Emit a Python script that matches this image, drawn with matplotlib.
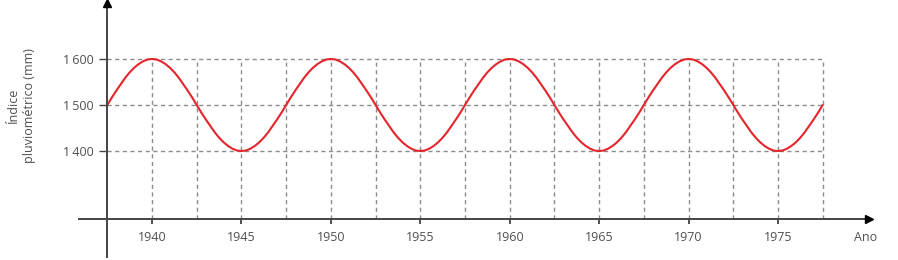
"""Índice pluviométrico: curva periódica 1937.5-1977.5."""

import numpy as np
import matplotlib
matplotlib.use("Agg")
from matplotlib import pyplot as plt

plt.rcParams["font.family"] = ["Open Sans", "DejaVu Sans"]

# quarter-year samples (period of 10 years)
years = np.arange(1937.5, 1977.75, 0.25)
rain_index = [
    1500, 1516, 1531, 1545, 1559, 1571, 1581, 1589, 1595, 1599,
    1600, 1599, 1595, 1589, 1581, 1571, 1559, 1545, 1531, 1516,
    1500, 1484, 1469, 1455, 1441, 1429, 1419, 1411, 1405, 1401,
    1400, 1401, 1405, 1411, 1419, 1429, 1441, 1455, 1469, 1484,
    1500, 1516, 1531, 1545, 1559, 1571, 1581, 1589, 1595, 1599,
    1600, 1599, 1595, 1589, 1581, 1571, 1559, 1545, 1531, 1516,
    1500, 1484, 1469, 1455, 1441, 1429, 1419, 1411, 1405, 1401,
    1400, 1401, 1405, 1411, 1419, 1429, 1441, 1455, 1469, 1484,
    1500, 1516, 1531, 1545, 1559, 1571, 1581, 1589, 1595, 1599,
    1600, 1599, 1595, 1589, 1581, 1571, 1559, 1545, 1531, 1516,
    1500, 1484, 1469, 1455, 1441, 1429, 1419, 1411, 1405, 1401,
    1400, 1401, 1405, 1411, 1419, 1429, 1441, 1455, 1469, 1484,
    1500, 1516, 1531, 1545, 1559, 1571, 1581, 1589, 1595, 1599,
    1600, 1599, 1595, 1589, 1581, 1571, 1559, 1545, 1531, 1516,
    1500, 1484, 1469, 1455, 1441, 1429, 1419, 1411, 1405, 1401,
    1400, 1401, 1405, 1411, 1419, 1429, 1441, 1455, 1469, 1484,
    1500,
]

x_ticks = [1940, 1945, 1950, 1955, 1960, 1965, 1970, 1975]
y_ticks = [1400, 1500, 1600]
y_tick_labels = ["1\u2009400", "1\u2009500", "1\u2009600"]
grid_x = [1940, 1942.5, 1945, 1947.5, 1950, 1952.5, 1955, 1957.5,
          1960, 1962.5, 1965, 1967.5, 1970, 1972.5, 1975, 1977.5]

AXIS_COLOR = "#444444"
TEXT_COLOR = "#4f4f4f"
GRID_COLOR = "#8c8c8c"
RED = "#e4252b"

x0, x1 = 1937.5, 1977.5
base_y = 1252.2

fig = plt.figure(figsize=(8.98, 2.6), dpi=100)
ax = fig.add_axes([0, 0, 1, 1])
ax.set_xlim(1931.50, 1981.71)
ax.set_ylim(1163.0, 1728.3)
ax.patch.set_alpha(0)

# dashed guide grid
grid_style = dict(color=GRID_COLOR, linewidth=1.0, linestyles=(0, (3, 2.5)), zorder=1)
ax.hlines(y_ticks, x0, x1, **grid_style)
ax.vlines(grid_x, base_y, max(y_ticks), **grid_style)

ax.plot(years, rain_index, color=RED, linewidth=1.5, zorder=3,
        solid_joinstyle="round", solid_capstyle="round")

# axes drawn as arrows through the data origin
for side in ("top", "right"):
    ax.spines[side].set_visible(False)
ax.spines["left"].set_position(("data", x0))
ax.spines["left"].set_bounds(1170, 1722)
ax.spines["bottom"].set_position(("data", base_y))
ax.spines["bottom"].set_bounds(1935.9, 1980.0)
for side in ("left", "bottom"):
    ax.spines[side].set_color(AXIS_COLOR)
    ax.spines[side].set_linewidth(1.4)
    ax.spines[side].set_zorder(4)

ax.plot(1980.1, base_y, marker=">", markersize=6, color="black", clip_on=False, zorder=5)
ax.plot(x0, 1721.5, marker="^", markersize=6, color="black", clip_on=False, zorder=5)

ax.set_xticks(x_ticks)
ax.set_xticklabels([str(y) for y in x_ticks])
ax.set_yticks(y_ticks)
ax.set_yticklabels(y_tick_labels)
ax.tick_params(axis="x", direction="out", length=3.5, width=1.1, color="#222222",
               pad=5, labelsize=9, labelcolor=TEXT_COLOR)
ax.tick_params(axis="y", direction="out", length=6, width=1.0, color=AXIS_COLOR,
               pad=3.5, labelsize=9, labelcolor=TEXT_COLOR)

fig.text(0.024, 0.595, "Índice\npluviométrico (mm)", rotation=90, ha="center",
         va="center", fontsize=9, color=TEXT_COLOR, linespacing=1.25)
fig.text(0.9635, 0.085, "Ano", ha="center", va="center", fontsize=9, color=TEXT_COLOR)

fig.savefig("out.png", dpi=100)
